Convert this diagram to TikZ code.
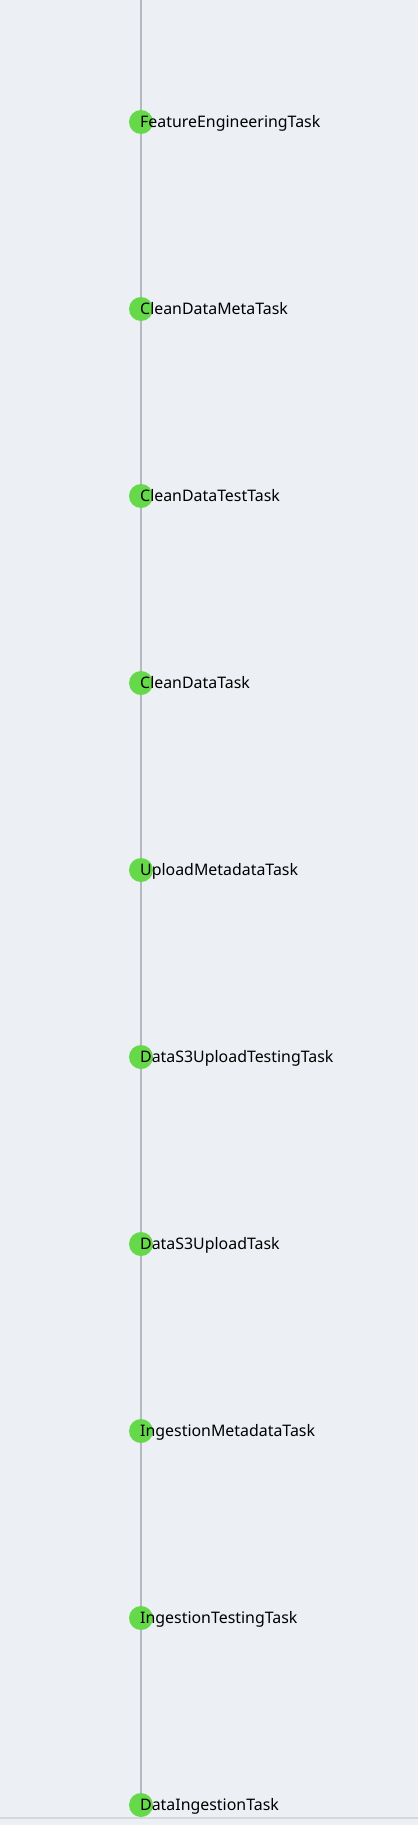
\documentclass[tikz,border=0pt]{standalone}
\usepackage{fontspec}
\setmainfont{Noto Sans}
\definecolor{bg}{HTML}{ECEFF4}
\definecolor{axis}{HTML}{B4B8BF}
\definecolor{dot}{HTML}{66D94A}
\definecolor{floor}{HTML}{D5D8DD}
\begin{document}
\begin{tikzpicture}[x=1pt,y=-1pt,
  dotnode/.style={circle,fill=dot,draw=none,minimum size=24pt,inner sep=0pt},
  lbl/.style={anchor=base west,inner sep=0pt,font=\fontsize{15.9}{18}\selectfont,text=black}]
\fill[bg] (0,0) rectangle (418,1825);
\useasboundingbox (0,0) rectangle (418,1825);
\coordinate (top) at (141,0);
\draw[floor,line width=1.2pt] (0,1818) -- (418,1818);
\draw[axis,line width=1.5pt] (top) -- (141,1805) coordinate (bot);
\foreach \name/\txt/\y in {
  n1/FeatureEngineeringTask/122,
  n2/CleanDataMetaTask/309,
  n3/CleanDataTestTask/496,
  n4/CleanDataTask/683,
  n5/UploadMetadataTask/870,
  n6/DataS3UploadTestingTask/1057,
  n7/DataS3UploadTask/1244,
  n8/IngestionMetadataTask/1431,
  n9/IngestionTestingTask/1618,
  n10/DataIngestionTask/1805}{
  \node[dotnode] (\name) at (141,\y) {};
  \node[lbl] (\name-t) at (140,\y+5.5) {\txt};
}
\end{tikzpicture}
\end{document}
